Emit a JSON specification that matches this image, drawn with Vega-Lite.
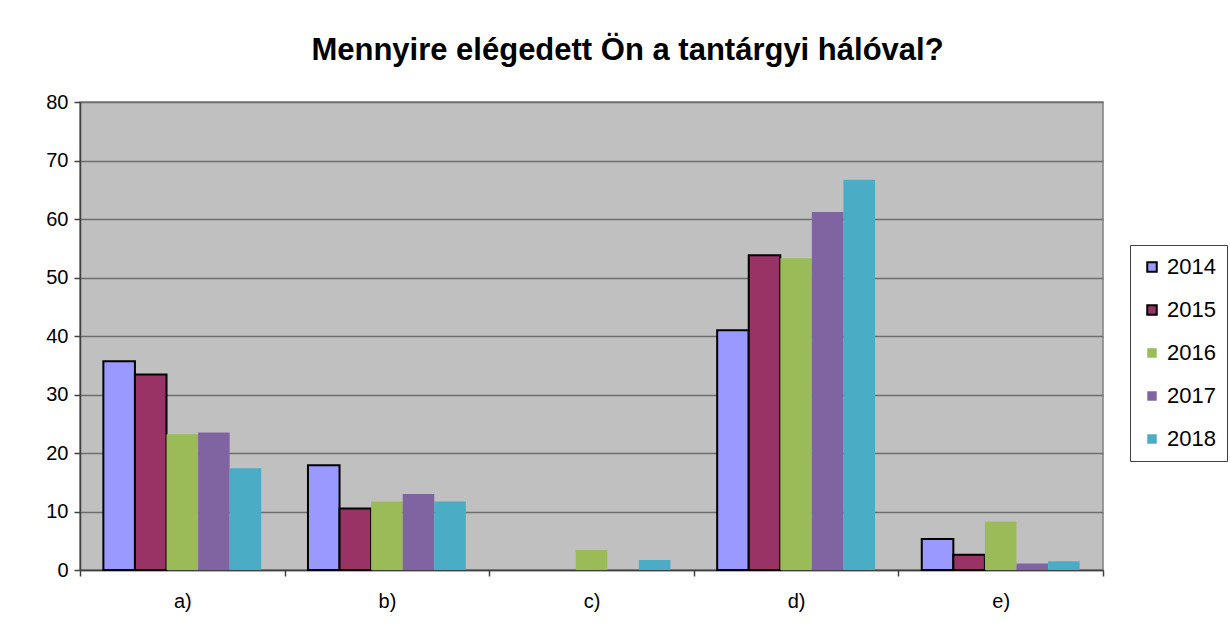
{
  "$schema": "https://vega.github.io/schema/vega-lite/v6.json",
  "width": 1023,
  "height": 468,
  "autosize": {"type": "none"},
  "padding": {"left": 80, "top": 102, "right": 127, "bottom": 56},
  "background": "white",
  "title": {
    "text": "Mennyire elégedett Ön a tantárgyi hálóval?",
    "font": "Liberation Sans",
    "fontSize": 31,
    "fontWeight": "bold",
    "color": "black",
    "anchor": "middle",
    "dx": 36,
    "offset": 25
  },
  "data": {
    "values": [
      {"cat": "a)", "year": "2014", "value": 35.7},
      {"cat": "a)", "year": "2015", "value": 33.4},
      {"cat": "a)", "year": "2016", "value": 23.2},
      {"cat": "a)", "year": "2017", "value": 23.5},
      {"cat": "a)", "year": "2018", "value": 17.4},
      {"cat": "b)", "year": "2014", "value": 17.9},
      {"cat": "b)", "year": "2015", "value": 10.5},
      {"cat": "b)", "year": "2016", "value": 11.7},
      {"cat": "b)", "year": "2017", "value": 13.0},
      {"cat": "b)", "year": "2018", "value": 11.7},
      {"cat": "c)", "year": "2014", "value": 0},
      {"cat": "c)", "year": "2015", "value": 0},
      {"cat": "c)", "year": "2016", "value": 3.4},
      {"cat": "c)", "year": "2017", "value": 0},
      {"cat": "c)", "year": "2018", "value": 1.7},
      {"cat": "d)", "year": "2014", "value": 41.0},
      {"cat": "d)", "year": "2015", "value": 53.8},
      {"cat": "d)", "year": "2016", "value": 53.3},
      {"cat": "d)", "year": "2017", "value": 61.2},
      {"cat": "d)", "year": "2018", "value": 66.7},
      {"cat": "e)", "year": "2014", "value": 5.3},
      {"cat": "e)", "year": "2015", "value": 2.6},
      {"cat": "e)", "year": "2016", "value": 8.3},
      {"cat": "e)", "year": "2017", "value": 1.1},
      {"cat": "e)", "year": "2018", "value": 1.5}
    ]
  },
  "transform": [{"filter": "datum.value > 0"}],
  "mark": {"type": "bar", "strokeWidth": 2},
  "encoding": {
    "x": {
      "field": "cat",
      "type": "nominal",
      "scale": {"paddingInner": 0, "paddingOuter": 0},
      "axis": {
        "title": null,
        "labelAngle": 0,
        "labelFont": "Liberation Sans",
        "labelFontSize": 20,
        "labelColor": "black",
        "labelPadding": 15,
        "tickBand": "extent",
        "tickSize": 6,
        "tickColor": "#404040",
        "tickWidth": 1.5,
        "domainColor": "#404040",
        "domainWidth": 1.5,
        "grid": false
      }
    },
    "xOffset": {
      "field": "year",
      "type": "nominal",
      "scale": {"paddingInner": 0, "paddingOuter": 0.74}
    },
    "y": {
      "field": "value",
      "type": "quantitative",
      "scale": {"domain": [0, 80], "nice": false},
      "axis": {
        "title": null,
        "values": [0, 10, 20, 30, 40, 50, 60, 70, 80],
        "labelFont": "Liberation Sans",
        "labelFontSize": 20,
        "labelColor": "black",
        "labelPadding": 6,
        "tickSize": 6,
        "tickColor": "#404040",
        "tickWidth": 1.5,
        "domainColor": "#404040",
        "domainWidth": 1.5,
        "grid": true,
        "gridColor": "#6e6e6e",
        "gridWidth": 1.5
      }
    },
    "color": {
      "field": "year",
      "type": "nominal",
      "scale": {
        "domain": ["2014", "2015", "2016", "2017", "2018"],
        "range": ["#9999FF", "#993366", "#9BBB59", "#8064A2", "#4BACC6"]
      },
      "legend": {
        "title": null,
        "orient": "none",
        "legendX": 1050,
        "legendY": 143,
        "symbolType": "square",
        "symbolSize": 90,
        "symbolStrokeWidth": 2,
        "labelFont": "Liberation Sans",
        "labelFontSize": 22,
        "labelColor": "black",
        "labelOffset": 4,
        "rowPadding": 21,
        "padding": 11,
        "strokeColor": "#404040",
        "fillColor": "white"
      }
    },
    "stroke": {
      "field": "year",
      "type": "nominal",
      "scale": {
        "domain": ["2014", "2015", "2016", "2017", "2018"],
        "range": ["black", "black", "transparent", "transparent", "transparent"]
      },
      "legend": {
        "title": null,
        "orient": "none",
        "legendX": 1050,
        "legendY": 143,
        "symbolType": "square",
        "symbolSize": 90,
        "symbolStrokeWidth": 2,
        "labelFont": "Liberation Sans",
        "labelFontSize": 22,
        "labelColor": "black",
        "labelOffset": 4,
        "rowPadding": 21,
        "padding": 11,
        "strokeColor": "#404040",
        "fillColor": "white"
      }
    }
  },
  "config": {
    "view": {"fill": "#C0C0C0", "stroke": "#808080", "strokeWidth": 1.5}
  }
}
